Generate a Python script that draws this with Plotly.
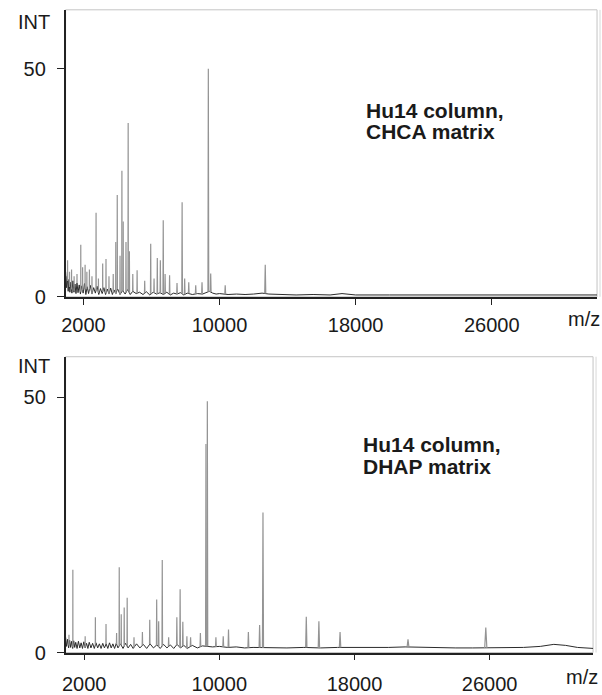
import numpy as np
import plotly.graph_objects as go

# ---------------- data ----------------
X_TICKS = [2000, 10000, 18000, 26000]
Y_TICKS = [0, 50]

# Top panel: Hu14 column, CHCA matrix
TOP_PEAK_MZ = [1066, 1180, 1300, 1450, 1620, 1842, 1950, 2096, 2200, 2350,
               2500, 2741, 2880, 3130, 3325, 3500, 3750, 3900, 3986, 4150,
               4260, 4336, 4500, 4628, 4700, 4900, 5154, 5600, 5953, 6150,
               6341, 6520, 6690, 6800, 7063, 7500, 7800, 7950, 8190, 8600,
               8970, 9341, 9480, 10333, 12687]
TOP_PEAK_INT = [8.0, 5.5, 6.0, 4.5, 5.0, 11.4, 6.5, 7.0, 5.5, 6.0,
                4.5, 18.4, 4.0, 7.3, 8.3, 4.5, 5.0, 12.0, 22.3, 9.0,
                27.6, 16.5, 12.0, 38.1, 10.0, 5.0, 5.8, 3.5, 11.6, 4.0,
                8.5, 8.0, 16.8, 5.0, 4.7, 3.0, 20.7, 4.0, 3.2, 2.5,
                3.2, 50.0, 5.1, 2.5, 7.0]
TOP_BASE_MZ = [950, 1000, 1050, 1100, 1150, 1200, 1260, 1320, 1380, 1440,
               1500, 1560, 1620, 1680, 1750, 1820, 1900, 1980, 2060, 2140,
               2220, 2300, 2400, 2500, 2600, 2700, 2800, 2900, 3000, 3100,
               3200, 3300, 3400, 3500, 3600, 3700, 3800, 3900, 4000, 4150,
               4300, 4450, 4600, 4750, 4900, 5100, 5300, 5500, 5700, 5900,
               6100, 6300, 6500, 6700, 6900, 7100, 7300, 7500, 7700, 7900,
               8100, 8400, 8700, 9000, 9200, 9400, 9600, 9800, 10000, 10500,
               11000, 11500, 12000, 12500, 12900, 13500, 14500, 15500, 16500, 17200,
               18000, 20000, 22000, 24000, 26000, 28000, 30000, 32200]
TOP_BASE_INT = [5.5, 2.0, 4.5, 1.2, 3.8, 1.0, 3.2, 0.8, 3.5, 1.0,
                2.8, 0.7, 3.0, 0.9, 2.6, 0.6, 2.4, 0.8, 2.9, 0.5,
                2.2, 0.7, 2.5, 0.6, 2.0, 0.8, 2.3, 0.5, 1.8, 0.7,
                2.0, 0.5, 1.7, 0.6, 1.9, 0.5, 1.5, 0.6, 1.8, 0.5,
                1.4, 0.6, 1.6, 0.5, 1.2, 0.7, 1.0, 0.5, 1.1, 0.4,
                1.0, 0.6, 0.9, 0.5, 1.0, 0.4, 0.8, 0.6, 0.9, 0.4,
                0.8, 0.5, 0.7, 0.6, 0.9, 1.2, 0.8, 0.6, 0.7, 0.5,
                0.6, 0.5, 0.6, 0.8, 0.6, 0.5, 0.4, 0.5, 0.4, 0.7,
                0.4, 0.4, 0.4, 0.4, 0.4, 0.4, 0.4, 0.4]

# Bottom panel: Hu14 column, DHAP matrix
BOT_PEAK_MZ = [1100, 1330, 2059, 2664, 3293, 3919, 4076, 4194, 4370, 4546,
               4950, 5447, 5881, 6292, 6410, 6622, 7000, 7486, 7680, 7840,
               8080, 8300, 8880, 9209, 9291, 9798, 10232, 10544, 11720, 12385,
               12584, 15148, 15894, 17147, 21169, 25773]
BOT_PEAK_INT = [3.5, 16.2, 3.2, 6.9, 5.6, 3.8, 16.7, 7.5, 8.8, 10.7,
                3.0, 4.0, 6.4, 10.4, 6.1, 18.1, 3.0, 6.9, 12.4, 6.0,
                3.2, 3.0, 3.8, 40.8, 49.2, 3.0, 3.2, 4.5, 4.0, 5.4,
                27.4, 7.0, 6.1, 4.0, 2.6, 4.9]
BOT_BASE_MZ = [900, 960, 1020, 1080, 1140, 1200, 1260, 1320, 1380, 1440,
               1500, 1580, 1660, 1740, 1820, 1900, 1980, 2060, 2140, 2220,
               2300, 2400, 2500, 2600, 2700, 2800, 2900, 3000, 3100, 3200,
               3300, 3400, 3500, 3600, 3700, 3800, 3900, 4000, 4150, 4300,
               4450, 4600, 4750, 4900, 5100, 5300, 5500, 5700, 5900, 6100,
               6300, 6500, 6700, 6900, 7100, 7300, 7500, 7700, 7900, 8100,
               8400, 8700, 9000, 9300, 9600, 10000, 10500, 11000, 11500, 12000,
               13000, 14000, 15000, 16000, 17000, 18000, 19000, 20000, 21000, 22000,
               23000, 24000, 25000, 26000, 27000, 28000, 29000, 29800, 30500, 31200,
               32150]
BOT_BASE_INT = [3.0, 1.2, 2.6, 0.9, 2.4, 1.0, 2.2, 0.8, 2.3, 1.0,
                2.0, 0.8, 2.2, 0.9, 1.9, 0.8, 2.1, 0.9, 1.8, 0.8,
                2.0, 0.9, 1.8, 0.8, 1.9, 0.9, 1.7, 0.8, 1.8, 0.9,
                1.7, 0.8, 1.9, 0.9, 1.7, 0.8, 1.8, 0.9, 1.7, 0.8,
                1.8, 0.9, 1.6, 0.8, 1.7, 0.9, 1.6, 0.8, 1.7, 0.9,
                1.5, 0.8, 1.6, 0.9, 1.5, 0.8, 1.6, 0.9, 1.4, 0.8,
                1.4, 0.9, 1.3, 1.2, 1.1, 1.2, 1.0, 1.1, 0.9, 1.0,
                0.9, 0.9, 1.0, 0.9, 1.0, 1.0, 0.9, 1.0, 1.1, 1.0,
                0.9, 0.9, 0.9, 0.9, 0.9, 1.0, 1.2, 1.6, 1.4, 1.0,
                0.8]

LABEL_TOP = ["Hu14 column,", "CHCA matrix"]
LABEL_BOT = ["Hu14 column,", "DHAP matrix"]

# ---------------- geometry / style ----------------
W, H = 602, 695
FONT = "Liberation Sans, Arial, sans-serif"
PEAK_COLOR = "#949494"
BASE_COLOR = "#2b2b2b"


def px(v, total):
    return v / total


def peak_path(mz, inten, base_mz, base_int):
    xs, ys = [], []
    for m, h in zip(mz, inten):
        b = float(np.interp(m, base_mz, base_int))
        hw = 0.0025 * m
        xs += [m - hw, m, m + hw, None]
        ys += [b, h, b, None]
    return xs, ys


fig = go.Figure()

panels = [
    dict(xa="x", ya="y", peak=(TOP_PEAK_MZ, TOP_PEAK_INT), base=(TOP_BASE_MZ, TOP_BASE_INT)),
    dict(xa="x2", ya="y2", peak=(BOT_PEAK_MZ, BOT_PEAK_INT), base=(BOT_BASE_MZ, BOT_BASE_INT)),
]
for p in panels:
    bx, by = p["base"]
    fig.add_trace(go.Scatter(x=bx, y=by, mode="lines", xaxis=p["xa"], yaxis=p["ya"],
                             line=dict(color=BASE_COLOR, width=1), hoverinfo="skip",
                             showlegend=False))
    px_, py_ = peak_path(p["peak"][0], p["peak"][1], bx, by)
    fig.add_trace(go.Scatter(x=px_, y=py_, mode="lines", xaxis=p["xa"], yaxis=p["ya"],
                             line=dict(color=PEAK_COLOR, width=1.2), hoverinfo="skip",
                             showlegend=False, connectgaps=False))

top_x = [px(62, W), px(597, W)]
top_y = [1 - px(302, H), 1 - px(10, H)]
bot_x = [px(62, W), px(593, W)]
bot_y = [1 - px(664, H), 1 - px(363, H)]

axis_font = dict(family=FONT, size=20, color="#1a1a1a")

def xaxis(domain, anchor, rng, standoff):
    return dict(domain=domain, anchor=anchor, range=rng, tickvals=X_TICKS,
                ticktext=[str(v) for v in X_TICKS], ticks="outside", ticklen=6,
                tickwidth=1, tickcolor="#222", showline=True, linecolor="#222",
                linewidth=1.5, showgrid=False, zeroline=False, tickfont=axis_font,
                ticklabelstandoff=standoff, fixedrange=True)

def yaxis(domain, anchor, rng):
    return dict(domain=domain, anchor=anchor, range=rng, tickvals=Y_TICKS,
                ticks="outside", ticklen=7, tickwidth=1, tickcolor="#222",
                showline=True, linecolor="#222", linewidth=1.5, showgrid=False,
                zeroline=False, tickfont=axis_font, ticklabelstandoff=7,
                fixedrange=True)

fig.update_layout(
    width=W, height=H, margin=dict(l=0, r=0, t=0, b=0),
    paper_bgcolor="white", plot_bgcolor="white",
    xaxis=xaxis(top_x, "y", [949, 32193], 3),
    yaxis=yaxis(top_y, "x", [0, 62.9]),
    xaxis2=xaxis(bot_x, "y2", [900, 32123], 7),
    yaxis2=yaxis(bot_y, "x2", [0, 57.9]),
    showlegend=False,
)

# light frame (top and right borders)
for dx, dy in [(top_x, top_y), (bot_x, bot_y)]:
    fig.add_shape(type="rect", xref="paper", yref="paper", x0=dx[0], x1=dx[1], y0=dy[0], y1=dy[1],
                  line=dict(color="#c4c4c4", width=1), layer="below")
    fig.add_shape(type="line", xref="paper", yref="paper", x0=dx[1] + 3 / W, x1=dx[1] + 3 / W,
                  y0=dy[0], y1=dy[1], line=dict(color="#d8d8d8", width=1), layer="below")

ann_font = dict(family=FONT, size=20, color="#1a1a1a")
annos = [
    dict(text="INT", x=px(12, W), y=1 - px(22.5, H), xanchor="left", yanchor="middle"),
    dict(text="INT", x=px(12, W), y=1 - px(372.5, H), xanchor="left", yanchor="middle"),
    dict(text="m/z", x=px(566, W), y=1 - px(324.5, H), xanchor="left", yanchor="middle"),
    dict(text="m/z", x=px(564, W), y=1 - px(689, H), xanchor="left", yanchor="middle"),
]
for a in annos:
    fig.add_annotation(xref="paper", yref="paper", showarrow=False, font=ann_font, **a)

lab_font = dict(family=FONT, size=21, color="#1a1a1a")
for lines, x0, ys in [(LABEL_TOP, 362, (112, 134)), (LABEL_BOT, 359, (452.5, 474.5))]:
    for line, yc in zip(lines, ys):
        fig.add_annotation(xref="paper", yref="paper", x=px(x0, W), y=1 - px(yc, H),
                           text="<b>" + line + "</b>", xanchor="left", yanchor="middle",
                           showarrow=False, font=lab_font)

fig.write_html("out.html")
